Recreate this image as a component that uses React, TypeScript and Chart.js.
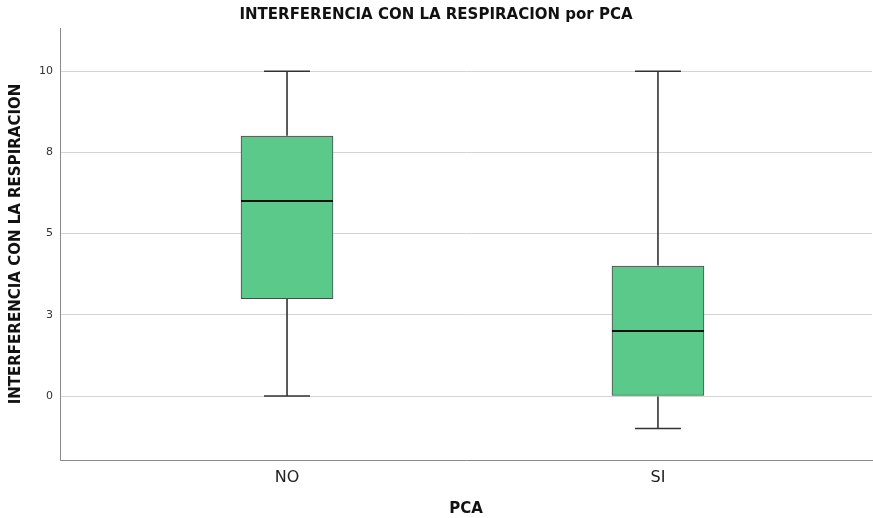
import React, { useEffect, useRef } from "react";
import { Chart, registerables } from "chart.js";

Chart.register(...registerables);

const categories = ["NO", "SI"];
const mins = [0, -1];
const q1s = [3, 0];
const medians = [6, 2];
const q3s = [8, 4];
const maxs = [10, 10];

const yTickValues = [0, 2.5, 5, 7.5, 10];
const yTickLabels = ["0", "3", "5", "8", "10"];

const FONT = "'DejaVu Sans', sans-serif";

const boxPlugin = {
  id: "boxWhiskers",
  afterDatasetsDraw(chart: any) {
    const { ctx, scales } = chart;
    const xs = scales.x;
    const ys = scales.y;
    const meta = chart.getDatasetMeta(0);
    ctx.save();
    categories.forEach((_, i) => {
      const cx = xs.getPixelForValue(i);
      const el = meta.data[i];
      const half = el ? el.width / 2 : 46;
      const capHalf = half / 2;
      const yMin = ys.getPixelForValue(mins[i]);
      const yQ1 = ys.getPixelForValue(q1s[i]);
      const yQ3 = ys.getPixelForValue(q3s[i]);
      const yMax = ys.getPixelForValue(maxs[i]);
      const yMed = ys.getPixelForValue(medians[i]);
      ctx.strokeStyle = "#333333";
      ctx.lineWidth = 1.6;
      ctx.beginPath();
      if (yMin !== yQ1) {
        ctx.moveTo(cx, yQ1 + 0.5);
        ctx.lineTo(cx, yMin);
      }
      ctx.moveTo(cx, yQ3 - 0.5);
      ctx.lineTo(cx, yMax);
      ctx.moveTo(cx - capHalf, yMax);
      ctx.lineTo(cx + capHalf, yMax);
      ctx.moveTo(cx - capHalf, yMin);
      ctx.lineTo(cx + capHalf, yMin);
      ctx.stroke();
      ctx.strokeStyle = "#111111";
      ctx.lineWidth = 2;
      ctx.beginPath();
      ctx.moveTo(cx - half, yMed);
      ctx.lineTo(cx + half, yMed);
      ctx.stroke();
    });
    ctx.restore();
  },
};

export default function App() {
  const ref = useRef<HTMLCanvasElement | null>(null);
  useEffect(() => {
    if (!ref.current) return;
    const chart = new Chart(ref.current, {
      type: "bar",
      data: {
        datasets: [
          {
            data: categories.map((_, i) => ({ x: i, y: [q1s[i], q3s[i]] })) as any,
            backgroundColor: "rgb(91,201,137)",
            borderColor: "#4a4a4a",
            borderWidth: 1,
            borderSkipped: false,
            barThickness: 92,
          },
        ],
      },
      options: {
        animation: false,
        responsive: true,
        maintainAspectRatio: false,
        layout: { padding: { left: 0, right: 1, top: 0, bottom: 0 } },
        plugins: {
          legend: { display: false },
          tooltip: { enabled: false },
          title: {
            display: true,
            text: "INTERFERENCIA CON LA RESPIRACION por PCA",
            color: "#111",
            font: { family: FONT, size: 15, weight: "bold" },
            padding: { top: 6, bottom: 4 },
          },
        },
        scales: {
          x: {
            type: "linear",
            offset: false,
            min: -0.612,
            max: 1.577,
            grid: { display: false, drawTicks: false, offset: false },
            border: { display: true, color: "#8a8a8a", width: 1 },
            afterBuildTicks: (scale: any) => {
              scale.ticks = categories.map((_, i) => ({ value: i }));
            },
            afterFit: (scale: any) => {
              scale.height = 58;
            },
            ticks: {
              padding: 8,
              color: "#222",
              font: { family: FONT, size: 16 },
              callback: (v: any) => categories[v] ?? "",
            },
            title: {
              display: true,
              text: "PCA",
              color: "#111",
              font: { family: FONT, size: 15, weight: "bold" },
              padding: { top: 0, bottom: 0 },
            },
          },
          y: {
            type: "linear",
            min: -1.97,
            max: 11.33,
            grid: { color: "#d4d4d4", lineWidth: 1, drawTicks: false },
            border: { display: true, color: "#8a8a8a", width: 1 },
            afterBuildTicks: (scale: any) => {
              scale.ticks = yTickValues.map((v) => ({ value: v }));
            },
            afterFit: (scale: any) => {
              scale.width = 60;
            },
            ticks: {
              padding: 7,
              color: "#333",
              font: { family: FONT, size: 11 },
              callback: (v: any) => {
                const idx = yTickValues.indexOf(v);
                return idx >= 0 ? yTickLabels[idx] : "";
              },
            },
            title: {
              display: true,
              text: "INTERFERENCIA CON LA RESPIRACION",
              color: "#111",
              font: { family: FONT, size: 15, weight: "bold" },
              padding: { top: 7, bottom: 0 },
            },
          },
        },
      },
      plugins: [boxPlugin],
    });
    return () => chart.destroy();
  }, []);
  return (
    <div style={{ position: "absolute", left: 0, top: 0, width: 873, height: 518, background: "#fff" }}>
      <canvas ref={ref} />
    </div>
  );
}
